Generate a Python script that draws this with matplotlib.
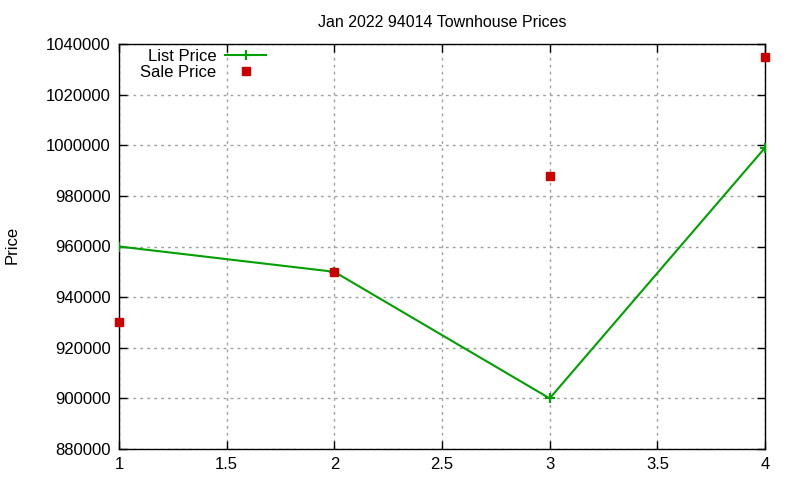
import numpy as np
import matplotlib
matplotlib.use('Agg')
import matplotlib.pyplot as plt

plt.rcParams['font.family'] = ['Liberation Sans', 'DejaVu Sans']

listing = [1, 2, 3, 4]
list_price = [960000, 950000, 900000, 999000]
sale_price = [930000, 950000, 988000, 1035000]
y_ticks = np.arange(880000, 1040001, 20000)
x_ticks = [1, 1.5, 2, 2.5, 3, 3.5, 4]

fig = plt.figure(figsize=(8, 4.8), dpi=100)
ax = fig.add_axes([119/800, 31/480, 646/800, 405/480])

ax.plot(listing, list_price, color='#00a000', lw=1.5, marker='+',
        markersize=7, markeredgewidth=1.5, label='List Price', zorder=3)
ax.plot(listing, sale_price, ls='none', color='#cc0000', marker='s',
        markersize=6, label='Sale Price', clip_on=False, zorder=4)

ax.set_xlim(1, 4)
ax.set_ylim(880000, 1040000)
ax.set_xticks(x_ticks)
ax.set_xticklabels(['1', '1.5', '2', '2.5', '3', '3.5', '4'])
ax.set_yticks(y_ticks)
ax.set_yticklabels([str(v) for v in y_ticks])
ax.tick_params(direction='in', top=True, right=True, length=6,
               labelsize=12, width=1, pad=6)
ax.grid(True, color='#a0a0a0', ls=(0, (2, 3)), lw=1)
for s in ax.spines.values():
    s.set_linewidth(1)

ax.set_title('Jan 2022 94014 Townhouse Prices', fontsize=11.5, pad=12.5)
fig.text(12/800, 1 - 245/480, 'Price', rotation=90, fontsize=12,
         ha='center', va='center')

leg = ax.legend(loc='upper left', bbox_to_anchor=(0.0176, 1.012), frameon=False,
                markerfirst=False, fontsize=12, handlelength=2.5,
                handletextpad=0.5, labelspacing=0.05, borderaxespad=0.2)
for t in leg.get_texts():
    t.set_ha('right')

fig.savefig('out.png', dpi=100)
